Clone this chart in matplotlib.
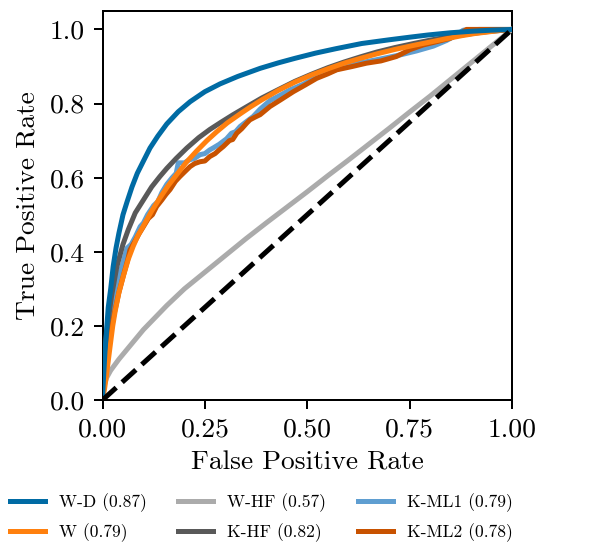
import numpy as np
import matplotlib.pyplot as plt

plt.style.use('tableau-colorblind10')
plt.rcParams['font.family'] = 'serif'
plt.rcParams['font.serif'] = ['cmr10']
plt.rcParams['mathtext.fontset'] = 'cm'
plt.rcParams['axes.formatter.use_mathtext'] = True
plt.rcParams['font.size'] = 11

# curves (fpr, tpr)
wd_fpr = [0, 0.002, 0.006, 0.01, 0.014, 0.02, 0.026, 0.033, 0.04, 0.05, 0.06, 0.072, 0.085, 0.1, 0.116,
          0.135, 0.157, 0.185, 0.214, 0.25, 0.287, 0.33, 0.385, 0.43, 0.47, 0.52, 0.57, 0.633, 0.7, 0.75,
          0.795, 0.85, 0.9, 0.95, 1.0]
wd_tpr = [0, 0.05, 0.13, 0.19, 0.25, 0.3, 0.36, 0.41, 0.45, 0.5, 0.535, 0.575, 0.612, 0.645, 0.68,
          0.712, 0.745, 0.778, 0.805, 0.832, 0.853, 0.873, 0.895, 0.91, 0.922, 0.936, 0.948, 0.962, 0.972, 0.979,
          0.985, 0.991, 0.995, 0.998, 1.0]

w_fpr = [0, 0.005, 0.01, 0.018, 0.025, 0.031, 0.04, 0.051, 0.063, 0.075, 0.087, 0.1, 0.12, 0.14, 0.16,
         0.181, 0.205, 0.23, 0.255, 0.279, 0.305, 0.336, 0.36, 0.389, 0.43, 0.47, 0.51, 0.551, 0.59, 0.63,
         0.67, 0.714, 0.76, 0.8, 0.84, 0.877, 0.91, 0.94, 0.97, 1.0]
w_tpr = [0, 0.03, 0.07, 0.14, 0.2, 0.24, 0.29, 0.335, 0.38, 0.415, 0.445, 0.47, 0.51, 0.545, 0.578,
         0.608, 0.642, 0.672, 0.7, 0.724, 0.748, 0.772, 0.79, 0.81, 0.836, 0.858, 0.877, 0.894, 0.909, 0.922,
         0.934, 0.946, 0.957, 0.966, 0.975, 0.983, 0.989, 0.993, 0.997, 1.0]

whf_fpr = [0, 0.003, 0.01, 0.02, 0.04, 0.07, 0.1, 0.157, 0.2, 0.25, 0.3, 0.35, 0.4, 0.45, 0.5, 0.55,
           0.6, 0.65, 0.7, 0.75, 0.8, 0.85, 0.9, 0.95, 1.0]
whf_tpr = [0, 0.035, 0.06, 0.08, 0.11, 0.15, 0.19, 0.255, 0.3, 0.345, 0.39, 0.435, 0.478, 0.52, 0.562, 0.605,
           0.647, 0.69, 0.733, 0.777, 0.82, 0.865, 0.91, 0.955, 1.0]

khf_fpr = [0, 0.004, 0.008, 0.012, 0.022, 0.035, 0.05, 0.063, 0.08, 0.1, 0.12, 0.14, 0.157, 0.18, 0.206,
           0.235, 0.262, 0.29, 0.319, 0.35, 0.389, 0.43, 0.47, 0.51, 0.551, 0.59, 0.63, 0.67, 0.714, 0.76,
           0.8, 0.84, 0.877, 0.91, 0.94, 0.97, 1.0]
khf_tpr = [0, 0.1, 0.16, 0.2, 0.28, 0.36, 0.42, 0.46, 0.505, 0.54, 0.575, 0.603, 0.625, 0.652, 0.68,
           0.708, 0.73, 0.75, 0.77, 0.79, 0.815, 0.838, 0.86, 0.879, 0.897, 0.912, 0.926, 0.939, 0.951, 0.962,
           0.971, 0.979, 0.985, 0.99, 0.994, 0.997, 1.0]

kml1_fpr = [0, 0.003, 0.008, 0.015, 0.022, 0.03, 0.04, 0.05, 0.06, 0.07, 0.08, 0.092, 0.1, 0.11, 0.125,
            0.135, 0.145, 0.157, 0.17, 0.18, 0.185, 0.2, 0.212, 0.225, 0.238, 0.25, 0.262, 0.27, 0.285,
            0.303, 0.315, 0.325, 0.336, 0.35, 0.368, 0.385, 0.409, 0.43, 0.458, 0.49, 0.523, 0.56, 0.604,
            0.645, 0.686, 0.73, 0.767, 0.808, 0.84, 0.865, 0.881, 0.92, 1.0]
kml1_tpr = [0, 0.07, 0.14, 0.2, 0.25, 0.29, 0.335, 0.37, 0.41, 0.42, 0.44, 0.468, 0.478, 0.5, 0.525,
            0.535, 0.56, 0.582, 0.6, 0.612, 0.64, 0.64, 0.648, 0.652, 0.662, 0.665, 0.675, 0.68, 0.69,
            0.705, 0.72, 0.724, 0.738, 0.75, 0.765, 0.785, 0.808, 0.82, 0.837, 0.852, 0.872, 0.887, 0.905,
            0.913, 0.922, 0.932, 0.942, 0.955, 0.97, 0.985, 0.998, 1.0, 1.0]

kml2_fpr = [0, 0.004, 0.01, 0.018, 0.028, 0.04, 0.052, 0.062, 0.067, 0.08, 0.09, 0.1, 0.112, 0.122, 0.132,
            0.145, 0.155, 0.165, 0.178, 0.189, 0.2, 0.214, 0.225, 0.238, 0.25, 0.262, 0.275, 0.285, 0.295,
            0.31, 0.318, 0.328, 0.34, 0.352, 0.36, 0.372, 0.385, 0.409, 0.435, 0.466, 0.495, 0.523, 0.55,
            0.572, 0.61, 0.645, 0.68, 0.718, 0.75, 0.783, 0.82, 0.849, 0.875, 0.889, 1.0]
kml2_tpr = [0, 0.05, 0.11, 0.17, 0.23, 0.29, 0.34, 0.38, 0.405, 0.43, 0.45, 0.468, 0.49, 0.5, 0.522,
            0.54, 0.555, 0.568, 0.59, 0.603, 0.615, 0.63, 0.638, 0.643, 0.645, 0.657, 0.665, 0.675, 0.684,
            0.7, 0.703, 0.72, 0.732, 0.747, 0.756, 0.763, 0.77, 0.792, 0.81, 0.832, 0.85, 0.868, 0.88,
            0.891, 0.9, 0.909, 0.915, 0.927, 0.945, 0.958, 0.968, 0.976, 0.99, 1.0, 1.0]

labels = ['W-D (0.87)', 'W (0.79)', 'W-HF (0.57)', 'K-HF (0.82)', 'K-ML1 (0.79)', 'K-ML2 (0.78)']
colors = ['#006BA4', '#FF800E', '#ABABAB', '#595959', '#5F9ED1', '#C85200']

fig = plt.figure(figsize=(3.4, 545 / 180), dpi=180)
ax = fig.add_axes([0.1675, 0.266, 0.669, 0.714])

curves = [(wd_fpr, wd_tpr), (w_fpr, w_tpr), (whf_fpr, whf_tpr),
          (khf_fpr, khf_tpr), (kml1_fpr, kml1_tpr), (kml2_fpr, kml2_tpr)]
zorders = [8, 7, 5, 6, 3, 4]
handles = []
for (fpr, tpr), lab, c, z in zip(curves, labels, colors, zorders):
    h, = ax.plot(fpr, tpr, color=c, lw=2, label=lab, zorder=z)
    handles.append(h)

ax.plot([0, 1], [0, 1], 'k--', lw=2, zorder=9)

ax.set_xlim(0, 1)
ax.set_ylim(0, 1.05)
ax.set_xticks([0, 0.25, 0.5, 0.75, 1.0])
ax.set_xticklabels(['0.00', '0.25', '0.50', '0.75', '1.00'])
ax.set_yticks([0, 0.2, 0.4, 0.6, 0.8, 1.0])
ax.set_yticklabels(['0.0', '0.2', '0.4', '0.6', '0.8', '1.0'])
ax.set_xlabel('False Positive Rate')
ax.set_ylabel('True Positive Rate')

fig.legend(handles=handles, loc='center', bbox_to_anchor=(0.4265, 0.0505), ncol=3,
           frameon=False, fontsize=7, columnspacing=1.8, labelspacing=0.65, handlelength=2)

fig.savefig('out.png', dpi=180)
